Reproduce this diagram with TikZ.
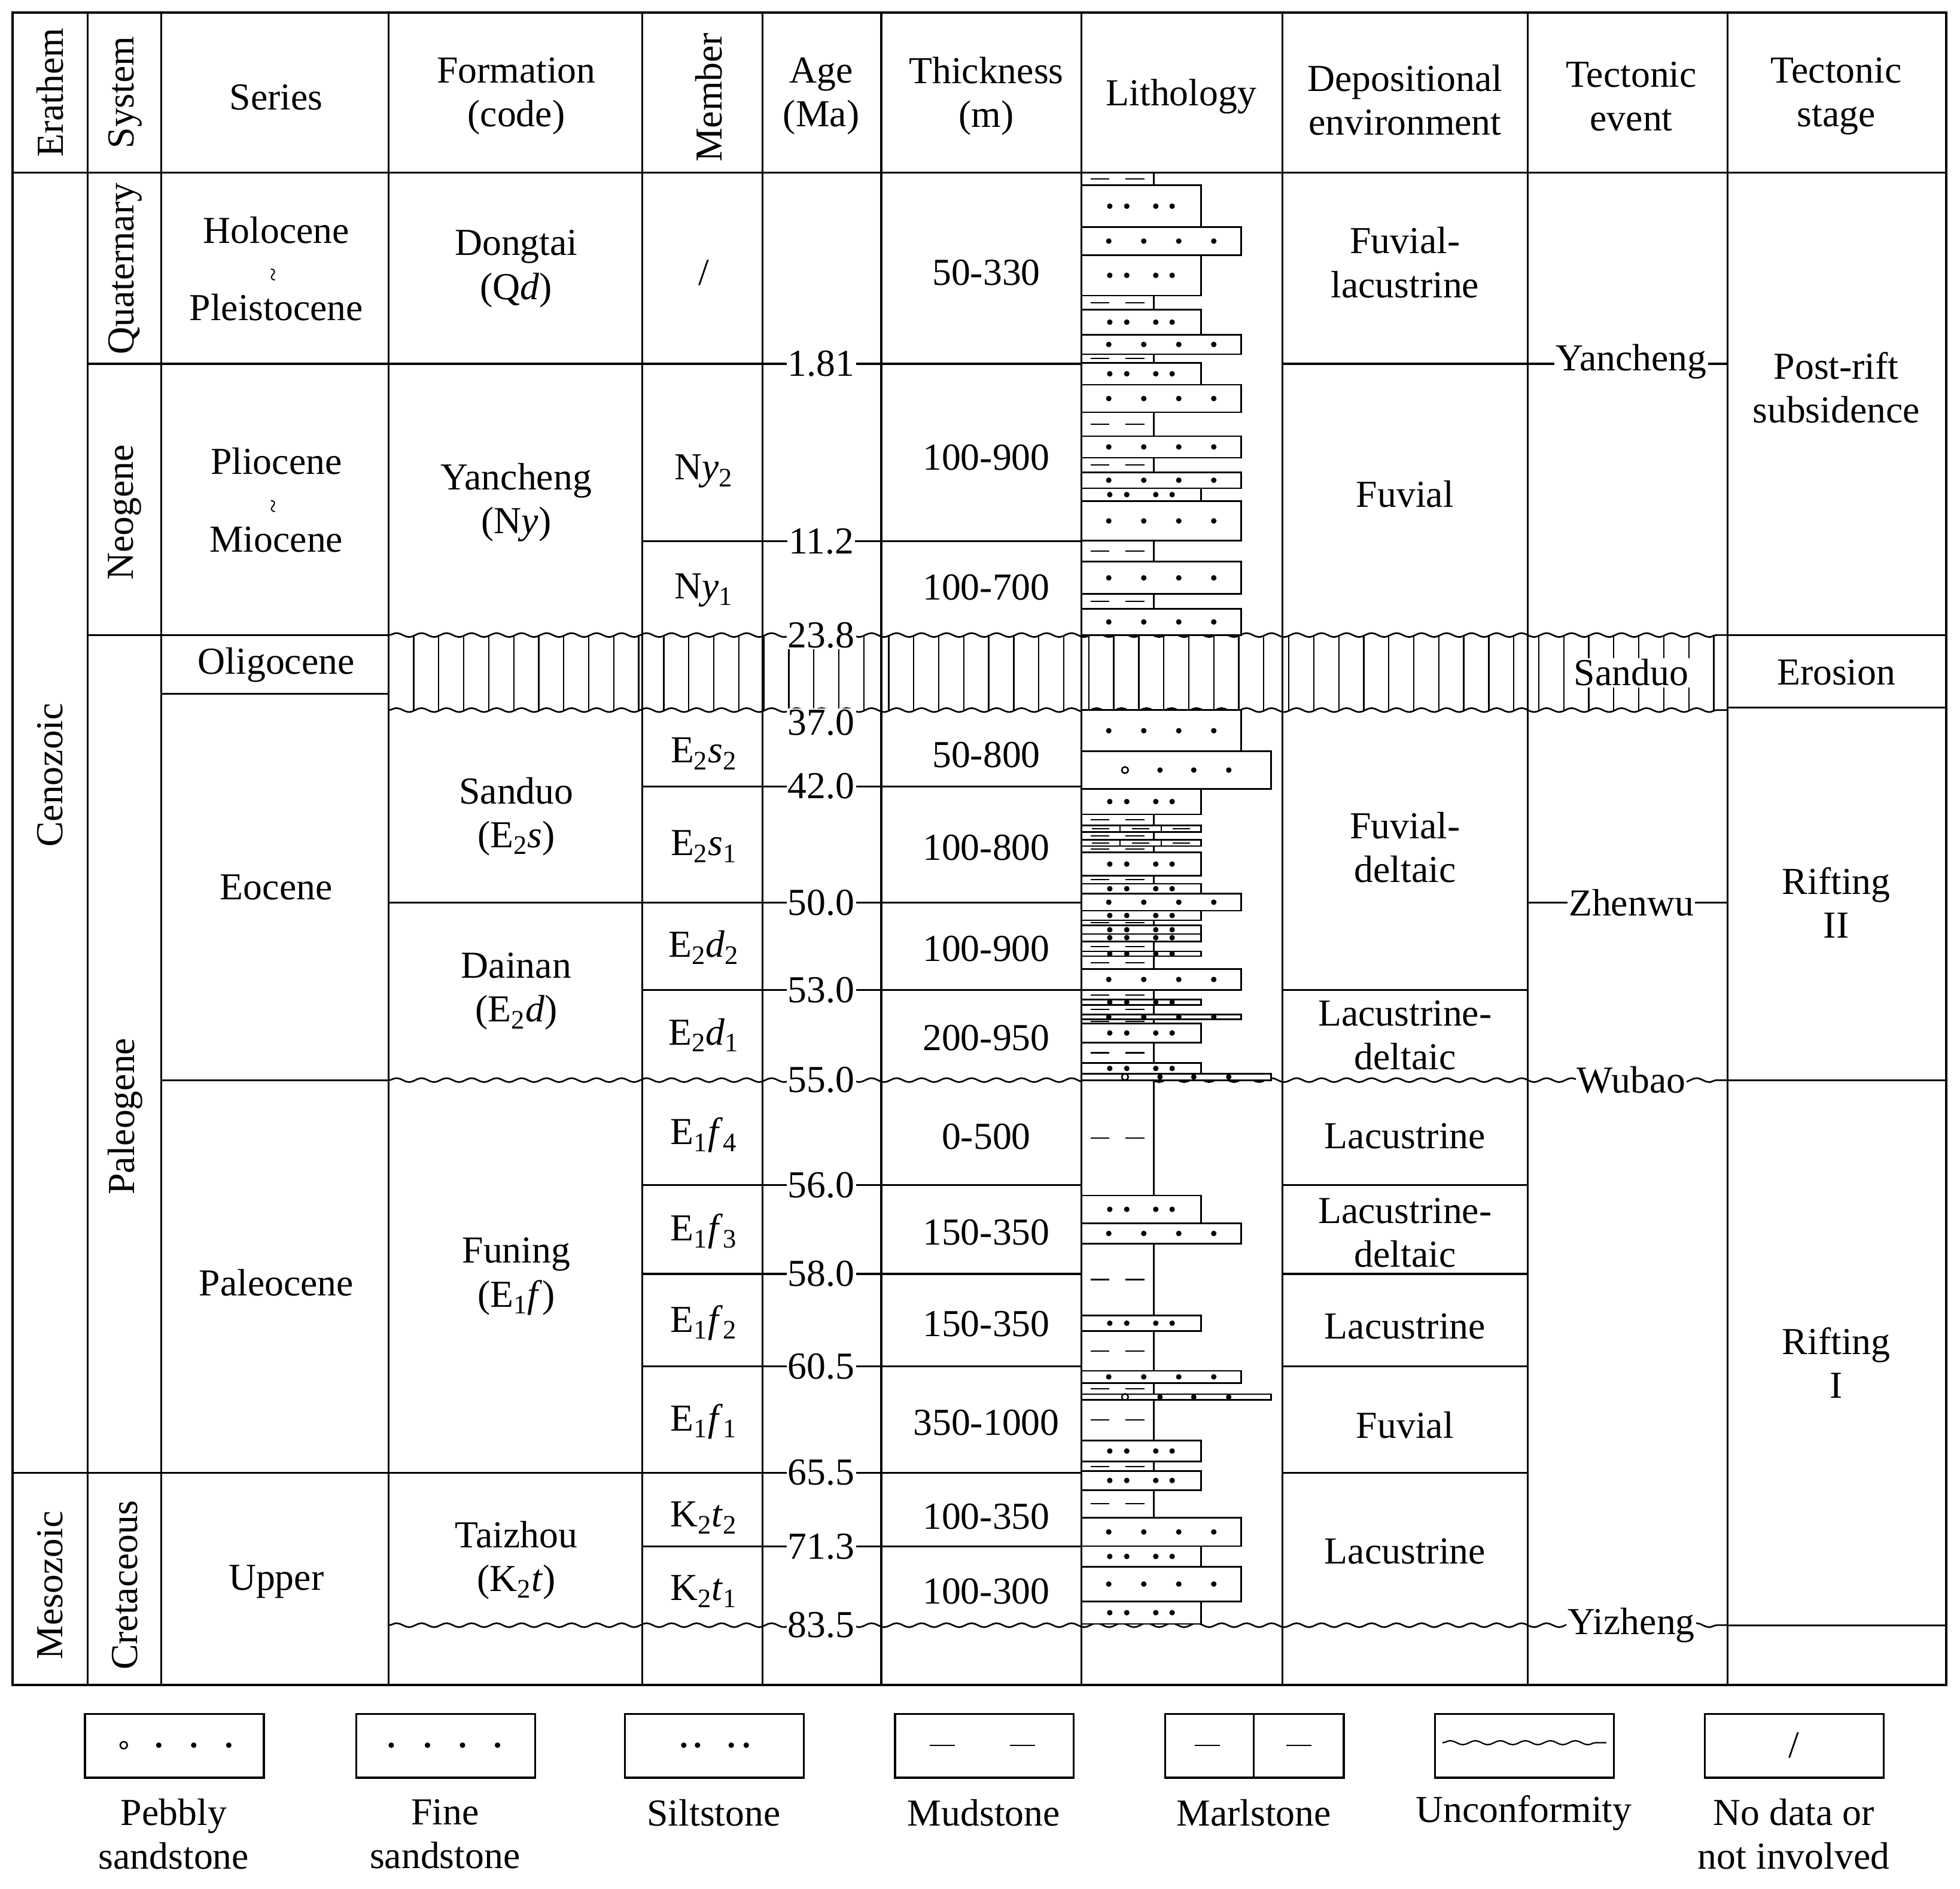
\documentclass[tikz,border=0pt]{standalone}
\usepackage{fontspec}
\setmainfont{Liberation Serif}
\usetikzlibrary{decorations.pathmorphing}
\newcommand\sbs[1]{\textsubscript{#1}}
\newcommand\wt{\\[-4pt]\rotatebox{90}{\fontsize{20}{20}\selectfont\textasciitilde}\\[-4pt]}
\tikzset{
  ln/.style={line width=1.5pt},
  wav/.style={line width=1.3pt,decorate,decoration={snake,segment length=20pt,amplitude=1.6pt}},
  tx/.style={font=\fontsize{30.5}{35}\selectfont,align=center,inner sep=1pt},
  lb/.style={tx,fill=white},
  bar/.style={line width=1.3pt,fill=white},
}
\newcommand\dotsS[1]{\foreach \q in {887.8,901.4,924.6,937.7}{\fill (\q,#1) circle (2.2pt);}}
\newcommand\dotsF[1]{\foreach \q in {887,915,943,971}{\fill (\q,#1) circle (2.2pt);}}
\newcommand\mudb[2]{\draw[bar] (865,#1) rectangle (923,#2);
  \draw[line width=1pt] (872.5,{(#1+#2)/2}) -- (887.5,{(#1+#2)/2}) (900.5,{(#1+#2)/2}) -- (915.5,{(#1+#2)/2});}
\newcommand\silt[2]{\draw[bar] (865,#1) rectangle (961,#2); \dotsS{{(#1+#2)/2}}}
\newcommand\fine[2]{\draw[bar] (865,#1) rectangle (993,#2); \dotsF{{(#1+#2)/2}}}
\newcommand\pebb[2]{\draw[bar] (865,#1) rectangle (1017,#2);
  \draw[line width=1.2pt,fill=white] (900,{(#1+#2)/2}) circle (2.6pt);
  \foreach \q in {928,955,983}{\fill (\q,{(#1+#2)/2}) circle (2.2pt);}}
\newcommand\marl[2]{\draw[bar] (865,#1) rectangle (961,#2);
  \draw[line width=1.1pt] (896,#1) -- (896,#2) (929,#1) -- (929,#2);
  \foreach \q in {880.5,912.5,945}{\draw[line width=1pt] (\q-7,{(#1+#2)/2}) -- (\q+7,{(#1+#2)/2});}}
\begin{document}
\begin{tikzpicture}[x=1pt,y=-1pt]
\useasboundingbox (0,0) rectangle (1568,1511);
\fill[white] (0,0) rectangle (1568,1511);
% hatch (erosion)
\foreach \h in {331,351,...,1381}{\draw[line width=1.1pt] (\h,508) -- (\h,568);}
% outer frame and columns
\draw[line width=2pt] (10,10) rectangle (1557,1348);
\draw[ln] (10,138) -- (1557,138);
\foreach \c in {70,129,311,514,610,705,865,1026,1222,1382}{\draw[ln] (\c,10) -- (\c,1348);}
% horizontal lines
\draw[ln] (70,291) -- (865,291) (1026,291) -- (1382,291);
\draw[ln] (514,433) -- (865,433);
\draw[ln] (70,508) -- (311,508) (1382,508) -- (1557,508);
\draw[ln] (129,555) -- (311,555);
\draw[ln] (1382,566) -- (1557,566);
\draw[ln] (514,629) -- (865,629);
\draw[ln] (311,722) -- (865,722) (1222,722) -- (1382,722);
\draw[ln] (514,792) -- (865,792) (1026,792) -- (1222,792);
\draw[ln] (129,864) -- (311,864) (1382,864) -- (1557,864);
\foreach \r in {948,1019,1093}{\draw[ln] (514,\r) -- (865,\r) (1026,\r) -- (1222,\r);}
\draw[ln] (10,1178) -- (865,1178) (1026,1178) -- (1222,1178);
\draw[ln] (514,1237) -- (865,1237);
\draw[ln] (1382,1300) -- (1557,1300);
% unconformities
\foreach \u in {508,568,864,1300}{\draw[wav] (311,\u) -- (1382,\u);}
% lithology spine
\draw[ln] (923,138) -- (923,508) (923,568) -- (923,1300);
% lithology bars
\mudb{138}{148.3}\silt{148.3}{181.6}\fine{181.6}{204.1}\silt{204.1}{236.4}
\mudb{236.4}{247.7}\silt{247.7}{267.7}\fine{267.7}{283.4}\mudb{283.4}{290.2}
\silt{290.2}{307.8}\fine{307.8}{329.8}\mudb{329.8}{348.9}\fine{348.9}{366.1}
\mudb{366.1}{377.8}\fine{377.8}{390.5}\silt{390.5}{400.8}\fine{400.8}{432.6}
\mudb{432.6}{449.3}\fine{449.3}{475.2}\mudb{475.2}{487}\fine{487}{508}
\fine{568}{601}\pebb{601}{631}\silt{631}{651.4}\mudb{651.4}{660.3}
\marl{660.3}{665.4}\mudb{665.4}{671.7}\marl{671.7}{676.8}\mudb{676.8}{681.9}
\silt{681.9}{700.5}\mudb{700.5}{706.9}\silt{706.9}{714.9}\fine{714.9}{728.5}
\silt{728.5}{736.1}\mudb{736.1}{740.3}\silt{740.3}{747.1}\silt{747.1}{753}
\mudb{753}{761}\silt{761}{764.8}\mudb{764.8}{775}\fine{775}{792}
\mudb{792}{799.6}\silt{799.6}{803.8}\mudb{803.8}{811.5}\fine{811.5}{815.3}
\mudb{815.3}{818.7}\silt{818.7}{833.9}\mudb{833.9}{850.4}\silt{850.4}{858.9}
\pebb{858.9}{864}
\mudb{864}{956.3}\silt{956.3}{978.4}\fine{978.4}{994.9}\mudb{994.9}{1052.2}
\silt{1052.2}{1064.7}\mudb{1064.7}{1096.5}\fine{1096.5}{1106.2}\mudb{1106.2}{1115.2}
\pebb{1115.2}{1119.8}\mudb{1119.8}{1152.2}\silt{1152.2}{1169.2}\mudb{1169.2}{1176.6}
\silt{1176.6}{1191.9}\mudb{1191.9}{1214}\fine{1214}{1236.8}\silt{1236.8}{1253.2}
\fine{1253.2}{1281}\silt{1281}{1299}
% header
\node[tx,rotate=90] (h1) at (40,74) {Erathem};
\node[tx,rotate=90] (h2) at (100,74) {System};
\node[tx] (h3) at (221,78) {Series};
\node[tx] (h4) at (413,77) {Formation\\(code)};
\node[tx,rotate=90] (h5) at (567,78) {Member};
\node[tx] (h6) at (657,77) {Age\\(Ma)};
\node[tx] (h7) at (789,77) {Thickness\\(m)};
\node[tx] (h8) at (945,77) {Lithology};
\node[tx] (h9) at (1124,80) {Depositional\\environment};
\node[tx] (h10) at (1305,77) {Tectonic\\event};
\node[tx] (h11) at (1469,77) {Tectonic\\stage};
% erathem/system
\node[tx,rotate=90] (e1) at (40,620) {Cenozoic};
\node[tx,rotate=90] (e2) at (40,1268) {Mesozoic};
\node[tx,rotate=90] (s1) at (100,215) {Quaternary};
\node[tx,rotate=90] (s2) at (100,410) {Neogene};
\node[tx,rotate=90] (s3) at (100,893) {Paleogene};
\node[tx,rotate=90] (s4) at (100,1268) {Cretaceous};
% series
\node[tx] (r1) at (221,215) {Holocene\wt Pleistocene};
\node[tx] (r2) at (221,400) {Pliocene\wt Miocene};
\node[tx] (r3) at (221,532) {Oligocene};
\node[tx] (r4) at (221,710) {Eocene};
\node[tx] (r5) at (221,1026) {Paleocene};
\node[tx] (r6) at (221,1265) {Upper};
% formation
\node[tx] (f1) at (413,215) {Dongtai\\(Q\textit{d})};
\node[tx] (f2) at (413,402) {Yancheng\\(N\textit{y})};
\node[tx] (f3) at (413,653) {Sanduo\\(E\sbs{2}\textit{s})};
\node[tx] (f4) at (413,793) {Dainan\\(E\sbs{2}\textit{d})};
\node[tx] (f5) at (413,1021) {Funing\\(E\sbs{1}\textit{f})};
\node[tx] (f6) at (413,1248) {Taizhou\\(K\sbs{2}\textit{t})};
% member
\node[tx] (m0) at (563,218) {/};
\node[tx] (m1) at (563,377) {N\textit{y}\sbs{2}};
\node[tx] (m2) at (563,472) {N\textit{y}\sbs{1}};
\node[tx] (m3) at (563,603) {E\sbs{2}\textit{s}\sbs{2}};
\node[tx] (m4) at (563,677) {E\sbs{2}\textit{s}\sbs{1}};
\node[tx] (m5) at (563,758) {E\sbs{2}\textit{d}\sbs{2}};
\node[tx] (m6) at (563,828) {E\sbs{2}\textit{d}\sbs{1}};
\node[tx] (m7) at (563,908) {E\sbs{1}\textit{f}\sbs{4}};
\node[tx] (m8) at (563,985) {E\sbs{1}\textit{f}\sbs{3}};
\node[tx] (m9) at (563,1058) {E\sbs{1}\textit{f}\sbs{2}};
\node[tx] (m10) at (563,1137) {E\sbs{1}\textit{f}\sbs{1}};
\node[tx] (m11) at (563,1214) {K\sbs{2}\textit{t}\sbs{2}};
\node[tx] (m12) at (563,1273) {K\sbs{2}\textit{t}\sbs{1}};
% ages
\foreach \a/\yy in {1.81/291,11.2/433,23.8/508,37.0/578,42.0/629,50.0/722,53.0/792,55.0/864,56.0/948,58.0/1019,60.5/1093,65.5/1178,71.3/1237,83.5/1300}
  {\node[lb] at (657,\yy) {\a};}
% thickness
\foreach \t/\yy in {50-330/218,100-900/366,100-700/470,50-800/604,100-800/678,100-900/759,200-950/830,0-500/909,150-350/986,150-350/1059,350-1000/1138,100-350/1213,100-300/1273}
  {\node[tx] at (789,\yy) {\t};}
% environment
\node[tx] (d1) at (1124,210) {Fuvial-\\lacustrine};
\node[tx] (d2) at (1124,395) {Fuvial};
\node[tx] (d3) at (1124,678) {Fuvial-\\deltaic};
\node[tx] (d4) at (1124,828) {Lacustrine-\\deltaic};
\node[tx] (d5) at (1124,909) {Lacustrine};
\node[tx] (d6) at (1124,986) {Lacustrine-\\deltaic};
\node[tx] (d7) at (1124,1061) {Lacustrine};
\node[tx] (d8) at (1124,1140) {Fuvial};
\node[tx] (d9) at (1124,1241) {Lacustrine};
% tectonic event
\node[lb] (t1) at (1305,289) {Yancheng};
\node[lb] (t2) at (1305,538) {Sanduo};
\node[lb] (t3) at (1305,722) {Zhenwu};
\node[lb] (t4) at (1305,864) {Wubao};
\node[lb] (t5) at (1305,1300) {Yizheng};
% tectonic stage
\node[tx] (g1) at (1469,310) {Post-rift\\subsidence};
\node[tx] (g2) at (1469,538) {Erosion};
\node[tx] (g3) at (1469,722) {Rifting\\II};
\node[tx] (g4) at (1469,1090) {Rifting\\I};
% legend
\foreach \lx in {68,285,500,716,932,1148,1364}{\draw[line width=1.6pt] (\lx,1371) rectangle (\lx+143,1422);}
\draw[line width=1.2pt] (99,1396) circle (2.8pt);
\foreach \q in {127,155,183}{\fill (\q,1396) circle (2.2pt);}
\foreach \q in {313,342,370,398}{\fill (\q,1396) circle (2.2pt);}
\foreach \q in {547,558,585,597}{\fill (\q,1396) circle (2.2pt);}
\draw[line width=1pt] (744,1396) -- (764,1396) (808,1396) -- (828,1396);
\draw[line width=1.3pt] (1003,1371) -- (1003,1422);
\draw[line width=1pt] (956,1396) -- (976,1396) (1029,1396) -- (1049,1396);
\draw[line width=1.1pt,decorate,decoration={snake,segment length=20pt,amplitude=1.6pt}] (1154,1394) -- (1285,1394);
\node[tx] (n7) at (1435,1396) {/};
\node[tx] (l1) at (139,1467) {Pebbly\\sandstone};
\node[tx] (l2) at (356,1467) {Fine\\sandstone};
\node[tx] (l3) at (571,1450) {Siltstone};
\node[tx] (l4) at (787,1450) {Mudstone};
\node[tx] (l5) at (1003,1450) {Marlstone};
\node[tx] (l6) at (1219,1450) {Unconformity};
\node[tx] (l7) at (1435,1467) {No data or\\not involved};
\end{tikzpicture}
\end{document}
